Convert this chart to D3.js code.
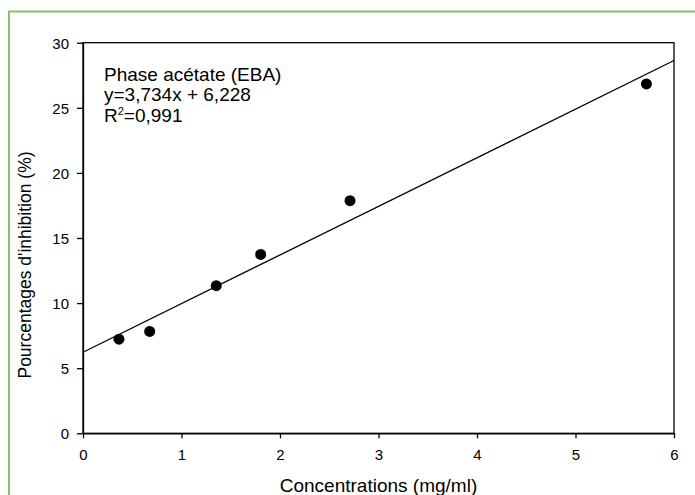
<!DOCTYPE html>
<html>
<head>
<meta charset="utf-8">
<script src="https://cdn.jsdelivr.net/npm/d3@7"></script>
<style>
  body { margin: 0; background: #fff; }
  svg { display: block; font-family: "Liberation Sans", Arial, sans-serif; }
  .axis path, .axis line { stroke: #000; stroke-width: 1.3; }
  .axis text { font-size: 15px; fill: #000; }
</style>
</head>
<body>
<svg id="chart" width="695" height="495"></svg>
<script>
// data
const concentrations = [0.365, 0.677, 1.353, 1.804, 2.711, 5.72];
const inhibition = [7.23, 7.82, 11.34, 13.74, 17.87, 26.83];
const slope = 3.734, intercept = 6.228;
const xTicks = [0, 1, 2, 3, 4, 5, 6];
const yTicks = [0, 5, 10, 15, 20, 25, 30];
const legendLines = ["Phase acétate (EBA)", "y=3,734x + 6,228"];

const svg = d3.select("#chart");
const plotLeft = 83, plotRight = 674, plotTop = 42.7, plotBottom = 433.3;

// green frame round the whole picture (cut off on right and bottom)
svg.append("rect")
    .attr("x", 9).attr("y", 11.5)
    .attr("width", 720).attr("height", 520)
    .attr("fill", "none")
    .attr("stroke", "#86c164")
    .attr("stroke-width", 2);

let xScale = d3.scaleLinear().domain([0, 6]).range([plotLeft, plotRight]);
let yScale = d3.scaleLinear().domain([0, 30]).range([plotBottom, plotTop]);

// box
svg.append("rect")
    .attr("x", plotLeft).attr("y", plotTop)
    .attr("width", plotRight - plotLeft).attr("height", plotBottom - plotTop)
    .attr("fill", "none").attr("stroke", "#000").attr("stroke-width", 1.3);

let x_axis = d3.axisBottom(xScale).tickValues(xTicks).tickSize(5).tickPadding(6).tickSizeOuter(0)
    .tickFormat(d3.format("d"));
let y_axis = d3.axisLeft(yScale).tickValues(yTicks).tickSize(6).tickPadding(8).tickSizeOuter(0)
    .tickFormat(d3.format("d"));

svg.append("g").attr("class", "axis")
    .attr("transform", `translate(0,${plotBottom})`)
    .call(x_axis)
    .call(g => g.selectAll("text").attr("dy", null).attr("y", 27));

svg.append("g").attr("class", "axis")
    .attr("transform", `translate(${plotLeft},0)`)
    .call(y_axis)
    .call(g => g.selectAll("text").attr("dy", "0.36em"));

// axis titles
svg.append("text")
    .attr("x", (plotLeft + plotRight) / 2).attr("y", 492)
    .attr("text-anchor", "middle")
    .attr("font-size", 19)
    .text("Concentrations (mg/ml)");

svg.append("text")
    .attr("transform", `translate(31,${265}) rotate(-90)`)
    .attr("text-anchor", "middle")
    .attr("font-size", 17.5)
    .text("Pourcentages d'inhibition (%)");

// regression line
svg.append("line")
    .attr("x1", xScale(0)).attr("y1", yScale(intercept))
    .attr("x2", xScale(6)).attr("y2", yScale(slope * 6 + intercept))
    .attr("stroke", "#000").attr("stroke-width", 1.3);

// points
svg.append("g")
    .selectAll("circle")
    .data(concentrations)
    .enter().append("circle")
    .attr("cx", d => xScale(d))
    .attr("cy", (d, i) => yScale(inhibition[i]))
    .attr("r", 5.5)
    .attr("fill", "#000");

// text inside the plot
const legend = svg.append("g").attr("font-size", 19);
legendLines.forEach((t, i) => {
    legend.append("text").attr("x", 104).attr("y", 81 + i * 20).text(t);
});
const r2 = legend.append("text").attr("x", 104).attr("y", 122);
r2.append("tspan").text("R");
r2.append("tspan").attr("font-size", 11).attr("dy", -7).text("2");
r2.append("tspan").attr("dy", 7).text("=0,991");
</script>
</body>
</html>
